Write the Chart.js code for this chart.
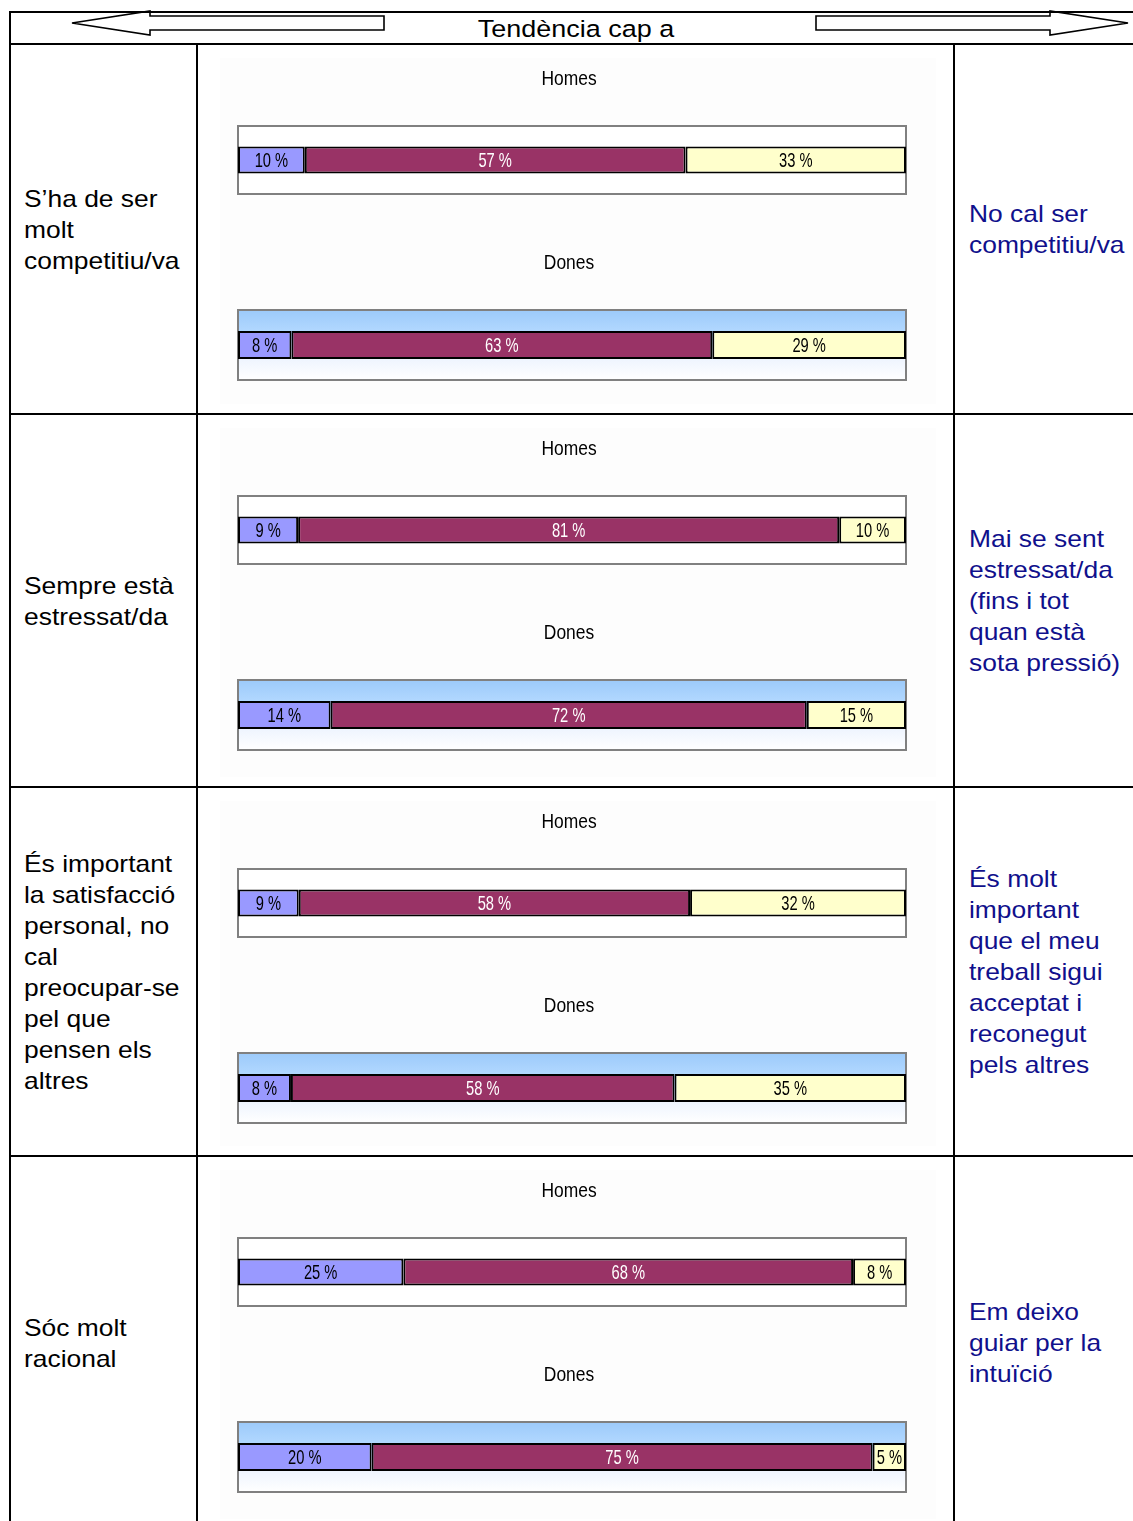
<!DOCTYPE html>
<html lang="ca">
<head>
<meta charset="utf-8">
<title>Tendència cap a</title>
<script src="https://cdn.jsdelivr.net/npm/chart.js@4.4.1/dist/chart.umd.min.js"></script>
<style>
  html, body { margin: 0; padding: 0; background: #fff; }
  body { width: 1133px; height: 1521px; position: relative; overflow: hidden;
         font-family: "Liberation Sans", Arial, sans-serif; }
  .hline, .vline { position: absolute; background: #000; }
  .hline { height: 2px; }
  .vline { width: 2px; }
  .cell { position: absolute; display: flex; align-items: center;
          font-size: 24px; line-height: 31px; }
  .cell > div { transform: scaleX(1.1); transform-origin: 0 50%; white-space: nowrap; }
  .cell.left { left: 24px; width: 160px; color: #000; }
  .cell.right { left: 969px; width: 150px; color: #10108c; }
  .panel { position: absolute; left: 220px; width: 716px; background: #fdfdfd; }
  canvas { position: absolute; }
  #head { position: absolute; left: 456px; width: 240px; top: 12px; height: 32px;
          line-height: 33px; text-align: center; font-size: 24.5px;
          transform: scaleX(1.1); transform-origin: 50% 50%; }
</style>
</head>
<body>
<svg width="1133" height="44" style="position:absolute;left:0;top:0">
  <polygon points="72,23 150,11 150,16 384,16 384,30 150,30 150,35"
           fill="#fff" stroke="#000" stroke-width="1.6"/>
  <polygon points="816,16 1050,16 1050,11 1128,23 1050,35 1050,30 816,30"
           fill="#fff" stroke="#000" stroke-width="1.6"/>
</svg>
<div id="head">Tendència cap a</div>
<div id="grid"></div>
<script>
// Statement on the left / opposite tendency on the right, one per row
const leftStatements = [
  "S’ha de ser<br>molt<br>competitiu/va",
  "Sempre està<br>estressat/da",
  "És important<br>la satisfacció<br>personal, no<br>cal<br>preocupar-se<br>pel que<br>pensen els<br>altres",
  "Sóc molt<br>racional"
];
const rightStatements = [
  "No cal ser<br>competitiu/va",
  "Mai se sent<br>estressat/da<br>(fins i tot<br>quan està<br>sota pressió)",
  "És molt<br>important<br>que el meu<br>treball sigui<br>acceptat i<br>reconegut<br>pels altres",
  "Em deixo<br>guiar per la<br>intuïció"
];
const groups = ["Homes", "Dones"];

// Percentages per row: [Homes, Dones]
const leftShare   = [[10, 8],  [9, 14],  [9, 8],   [25, 20]];
const middleShare = [[57, 63], [81, 72], [58, 58], [68, 75]];
const rightShare  = [[33, 29], [10, 15], [32, 35], [8, 5]];

// ---- page layout ----
const rowTops = [44, 414, 787, 1156];
const rowBottom = [414, 787, 1156, 1529];
const segColors = ["#9999ff", "#993366", "#ffffcc"];
const labelColors = ["#000", "#fff", "#000"];
const sans = "'Liberation Sans', Arial, sans-serif";

const grid = document.getElementById("grid");
function addLine(cls, x, y, len) {
  const d = document.createElement("div");
  d.className = cls;
  d.style.left = x + "px";
  d.style.top = y + "px";
  if (cls === "hline") d.style.width = len + "px"; else d.style.height = len + "px";
  grid.appendChild(d);
}
addLine("hline", 10, 11, 1123);
rowTops.forEach(y => addLine("hline", 10, y - 1, 1123));
addLine("vline", 9, 11, 1510);
addLine("vline", 196, 44, 1477);
addLine("vline", 953, 44, 1477);

// narrow text: draw horizontally compressed around (x, y)
function narrowText(ctx, text, x, y, size, sx, color) {
  ctx.save();
  ctx.translate(x, y);
  ctx.scale(sx, 1);
  ctx.font = size + "px " + sans;
  ctx.textAlign = "center";
  ctx.textBaseline = "middle";
  ctx.fillStyle = color;
  ctx.fillText(text, 0, 0);
  ctx.restore();
}

// plot area fill + frame, and the chart heading above it
const plotFrame = {
  id: "plotFrame",
  beforeDatasetsDraw(chart, args, opts) {
    const { ctx, chartArea: a } = chart;
    ctx.save();
    if (opts.tinted) {
      const g = ctx.createLinearGradient(0, a.top, 0, a.bottom);
      g.addColorStop(0, "#9ccafa");
      g.addColorStop(0.31, "#b2d8ff");
      g.addColorStop(0.69, "#eef4fe");
      g.addColorStop(1, "#ffffff");
      ctx.fillStyle = g;
    } else {
      ctx.fillStyle = "#ffffff";
    }
    ctx.fillRect(a.left, a.top, a.right - a.left, a.bottom - a.top);
    ctx.strokeStyle = "#808080";
    ctx.lineWidth = 2;
    ctx.strokeRect(a.left, a.top, a.right - a.left, a.bottom - a.top);
    ctx.restore();
    narrowText(ctx, chart.data.labels[0], (a.left + a.right) / 2 - 3, a.top - 47, 21, 0.83, "#000");
  }
};

// value labels centred in each segment
const segLabels = {
  id: "segLabels",
  afterDatasetsDraw(chart) {
    const ctx = chart.ctx;
    chart.data.datasets.forEach((ds, i) => {
      const el = chart.getDatasetMeta(i).data[0];
      const p = el.getProps(["x", "base", "y"], true);
      narrowText(ctx, ds.data[0] + " %", (p.x + p.base) / 2, p.y + 1, 21, 0.7, labelColors[i]);
    });
  }
};

rowTops.forEach((top, r) => {
  const h = rowBottom[r] - top;

  const panel = document.createElement("div");
  panel.className = "panel";
  panel.style.top = (top + 14) + "px";
  panel.style.height = (h - 24) + "px";
  document.body.appendChild(panel);

  const lc = document.createElement("div");
  lc.className = "cell left";
  lc.style.top = top + "px";
  lc.style.height = h + "px";
  lc.innerHTML = "<div>" + leftStatements[r] + "</div>";
  document.body.appendChild(lc);

  const rc = document.createElement("div");
  rc.className = "cell right";
  rc.style.top = top + "px";
  rc.style.height = h + "px";
  rc.innerHTML = "<div>" + rightStatements[r] + "</div>";
  document.body.appendChild(rc);

  groups.forEach((name, g) => {
    const cv = document.createElement("canvas");
    const cTop = top + (g === 0 ? 20 : 204);
    const cH = g === 0 ? 140 : 142;
    cv.width = 695; cv.height = cH;
    cv.style.left = "225px";
    cv.style.top = cTop + "px";
    cv.style.width = "695px";
    cv.style.height = cH + "px";
    document.body.appendChild(cv);

    const vals = [leftShare[r][g], middleShare[r][g], rightShare[r][g]];
    const total = vals.reduce((s, v) => s + v, 0);

    new Chart(cv, {
      type: "bar",
      data: {
        labels: [name],
        datasets: vals.map((v, i) => ({
          data: [v],
          backgroundColor: segColors[i],
          borderColor: "#000",
          borderWidth: 2,
          borderSkipped: false,
          barPercentage: 0.4,
          categoryPercentage: 1
        }))
      },
      options: {
        indexAxis: "y",
        responsive: false,
        animation: false,
        devicePixelRatio: 1,
        layout: { padding: { left: 13, right: 14, top: 62, bottom: 10 } },
        plugins: {
          legend: { display: false },
          tooltip: { enabled: false },
          title: { display: false },
          plotFrame: { tinted: g === 1 }
        },
        scales: {
          x: { stacked: true, min: 0, max: total, display: false },
          y: { stacked: true, display: false }
        }
      },
      plugins: [plotFrame, segLabels]
    });
  });
});
</script>
</body>
</html>
